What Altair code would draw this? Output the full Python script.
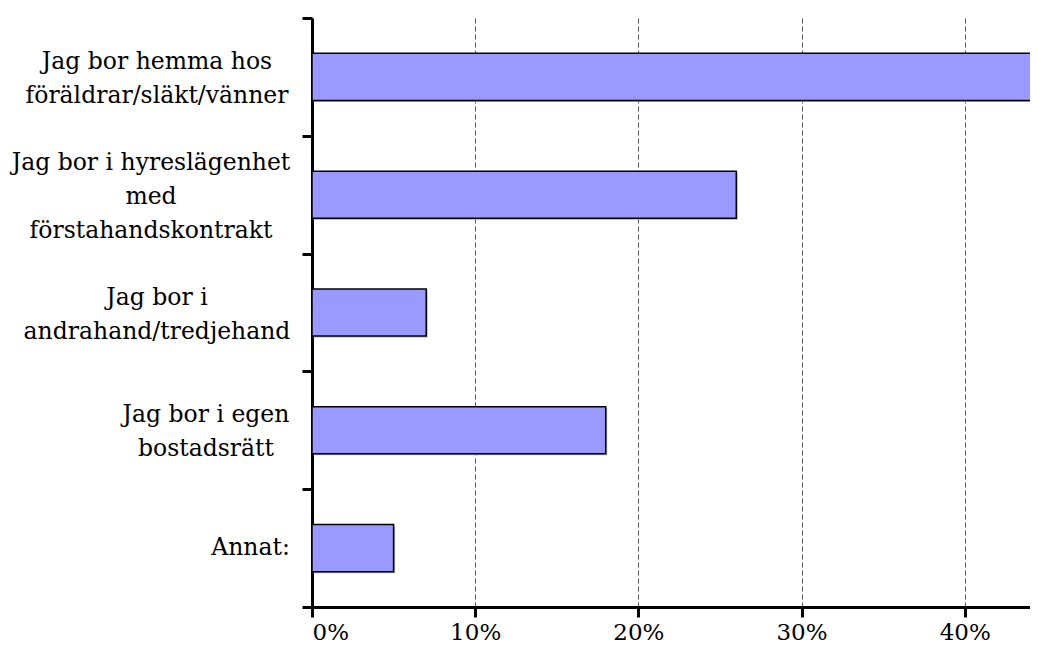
import altair as alt
import pandas as pd

categories = [
    "Jag bor hemma hos\nföräldrar/släkt/vänner",
    "Jag bor i hyreslägenhet\nmed\nförstahandskontrakt",
    "Jag bor i\nandrahand/tredjehand",
    "Jag bor i egen\nbostadsrätt ",
    "Annat:",
]
values = [0.445, 0.26, 0.07, 0.18, 0.05]
x_ticks = [0, 0.1, 0.2, 0.3, 0.4]

# style: horizontal centre of each label block, relative to the y axis (px)
label_centres = [-155, -161, -155, -106, -61.5]

df = pd.DataFrame({"cat": categories, "val": values, "row": list(range(len(categories)))})

W, H = 718, 589
FONT = "DejaVu Serif"
LH = 34

y_enc = alt.Y(
    "cat:N",
    sort=categories,
    scale=alt.Scale(domain=categories, paddingInner=0, paddingOuter=0),
    axis=alt.Axis(
        labels=False, title=None, ticks=True, tickBand="extent",
        tickSize=10, tickWidth=3, tickColor="black",
        domainColor="black", domainWidth=3, grid=False,
    ),
)
x_enc = alt.X(
    "val:Q",
    scale=alt.Scale(domain=[0, 0.44], nice=False, zero=True),
    axis=alt.Axis(
        values=x_ticks, format=".0%", title=None,
        grid=True, gridDash=[5, 3], gridColor="#555555", gridWidth=1,
        tickSize=10, tickWidth=3, tickColor="black",
        domainColor="black", domainWidth=3,
        labelFont=FONT, labelFontSize=23, labelColor="black", labelPadding=4,
    ),
)

base = alt.Chart(df)

shadow = base.mark_bar(
    height=alt.RelativeBandSize(0.4), color="#b0b0b0", xOffset=1.5, yOffset=1.5
).encode(x=x_enc, y=y_enc)

bars = base.mark_bar(
    height=alt.RelativeBandSize(0.4), fill="#9999FF", stroke="black", strokeWidth=1.5
).encode(x=x_enc, y=y_enc)

centre_expr = "[" + ",".join(str(c) for c in label_centres) + "][datum.row]"

text_layers = []
for n in (1, 2, 3):
    text_layers.append(
        base.transform_calculate(nl="length(split(datum.cat, '\\n'))")
        .transform_filter(f"datum.nl == {n}")
        .mark_text(
            align="center", baseline="middle", lineBreak="\n", lineHeight=LH,
            font=FONT, fontSize=23.5, color="black",
            dy=-(n - 1) * LH / 2 + (2 if n > 1 else 0),
        )
        .encode(
            y=y_enc,
            x=alt.value(alt.ExprRef(expr=centre_expr)),
            text="cat:N",
        )
    )

chart = (
    alt.layer(shadow, bars, *text_layers)
    .properties(
        width=W, height=H,
        autosize=alt.AutoSizeParams(type="none"),
        padding={"left": 304, "top": 10, "right": 0, "bottom": 37},
        view=alt.ViewBackground(stroke="white", strokeWidth=0, strokeOpacity=0),
    )
    .configure_view(stroke="transparent", strokeOpacity=0, strokeWidth=0)
    .configure(background="white")
)

chart.save("out.html", embed_options={"renderer": "svg", "actions": False})
